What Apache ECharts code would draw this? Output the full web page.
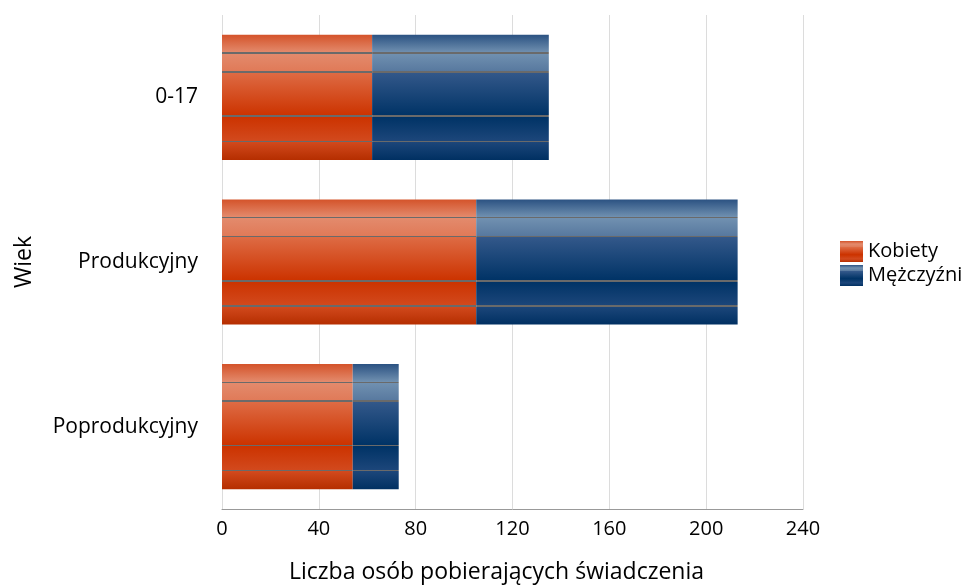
<!DOCTYPE html>
<html><head><meta charset="utf-8">
<script src="https://cdn.jsdelivr.net/npm/echarts@6/dist/echarts.min.js"></script>
<style>html,body{margin:0;padding:0;background:#fff}#c{width:976px;height:588px}</style>
</head><body><div id="c"></div>
<script>
const categories = ['0-17', 'Produkcyjny', 'Poprodukcyjny'];
const kobiety = [62, 105, 54];
const mezczyzni = [73, 108, 19];
const xTicks = [0, 40, 80, 120, 160, 200, 240];

function grad(c) {
  const L = '#6a6a6a';
  return new echarts.graphic.LinearGradient(0, 0, 0, 1, [
    {offset: 0, color: c[0]},
    {offset: 0.14, color: c[1]},
    {offset: 0.14, color: L}, {offset: 0.152, color: L},
    {offset: 0.152, color: c[1]},
    {offset: 0.29, color: c[2]},
    {offset: 0.29, color: L}, {offset: 0.302, color: L},
    {offset: 0.302, color: c[3]},
    {offset: 0.645, color: c[4]},
    {offset: 0.645, color: L}, {offset: 0.657, color: L},
    {offset: 0.657, color: c[4]},
    {offset: 0.845, color: c[5]},
    {offset: 0.845, color: L}, {offset: 0.857, color: L},
    {offset: 0.857, color: c[5]},
    {offset: 1, color: c[6]}
  ]);
}
const orange = grad(['#d4532a', '#e38a6c', '#e07a58', '#de6b44', '#cc3300', '#d2491d', '#b52e00']);
const blue = grad(['#2b5282', '#7090b0', '#58799f', '#33588a', '#003366', '#1c467a', '#003062']);

const chart = echarts.init(document.getElementById('c'));
chart.setOption({
  animation: false,
  textStyle: {fontFamily: 'Open Sans'},
  grid: {left: 222, right: 173, top: 15, bottom: 79, outerBoundsMode: 'none', containLabel: false},
  legend: {
    orient: 'vertical', left: 835, top: 236, itemWidth: 23, itemHeight: 21, itemGap: 3,
    icon: 'rect',
    textStyle: {fontSize: 20, color: '#000', fontFamily: 'Open Sans'},
    data: ['Kobiety', 'Mężczyźni']
  },
  xAxis: {
    type: 'value', min: 0, max: 240, interval: 40,
    name: 'Liczba osób pobierających świadczenia', nameLocation: 'middle', nameGap: 52,
    nameTextStyle: {fontSize: 23, color: '#000', padding: [0, 32, 0, 0]},
    axisLabel: {fontSize: 20, color: '#000', margin: 10, formatter: v => xTicks.includes(v) ? String(v) : ''},
    axisLine: {show: true, lineStyle: {color: '#999'}},
    axisTick: {show: false},
    splitLine: {lineStyle: {color: '#dcdcdc'}}
  },
  yAxis: {
    type: 'category', data: categories, inverse: true,
    name: 'Wiek', nameLocation: 'middle', nameGap: 186, nameRotate: 90,
    nameTextStyle: {fontSize: 23, color: '#000'},
    axisLabel: {fontSize: 21, color: '#000', margin: 24},
    axisLine: {show: false}, axisTick: {show: false}
  },
  series: [
    {name: 'Kobiety', type: 'bar', stack: 't', data: kobiety, barWidth: '76%', itemStyle: {color: orange}},
    {name: 'Mężczyźni', type: 'bar', stack: 't', data: mezczyzni, barWidth: '76%', itemStyle: {color: blue}}
  ]
});
</script></body></html>
